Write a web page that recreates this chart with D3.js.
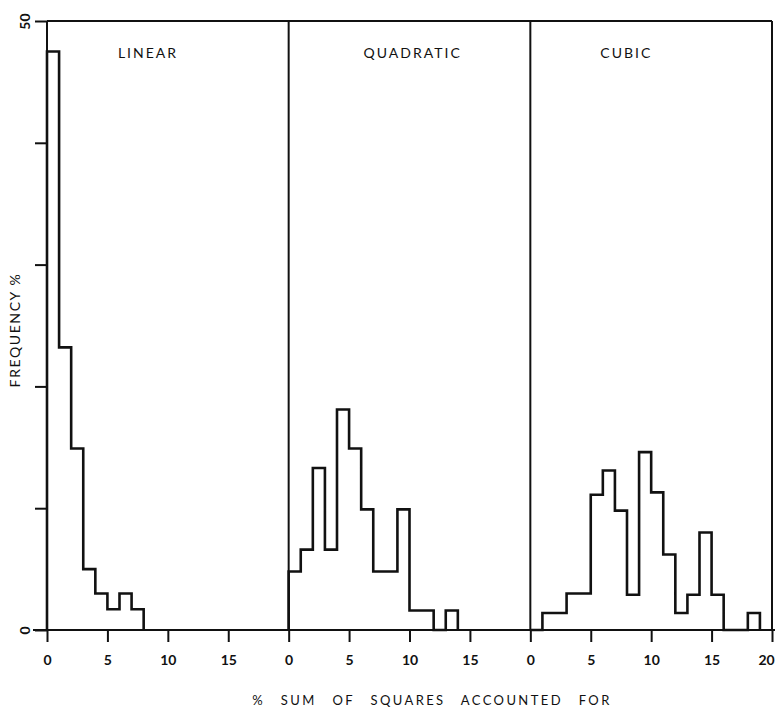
<!DOCTYPE html>
<html lang="en">
<head>
    <meta charset="UTF-8">
    <title>Sum of squares accounted for</title>
    <style>
        body { margin: 0; background: #fff; }
        svg text { font-family: Lato, "Open Sans", sans-serif; fill: #111; }
    </style>
</head>
<body>
    <script src="https://d3js.org/d3.v7.min.js"></script>
    <div id="container"></div>
    <script>
        // frequency % per 1-unit bin, starting at 0
        var panels = ['LINEAR', 'QUADRATIC', 'CUBIC'];
        var linearFreq = [47.5, 23.2, 14.9, 5.0, 3.0, 1.7, 3.0, 1.7];
        var quadraticFreq = [4.8, 6.6, 13.3, 6.6, 18.1, 14.9, 9.9, 4.8, 4.8, 9.9, 1.6, 1.6, 0, 1.6];
        var cubicFreq = [0, 1.4, 1.4, 3.0, 3.0, 11.1, 13.1, 9.8, 2.9, 14.6, 11.3, 6.2, 1.4, 2.9, 8.0, 2.9, 0, 0, 1.4];
        var xTicks = [[0, 5, 10, 15], [0, 5, 10, 15], [0, 5, 10, 15, 20]];
        var yTicks = [0, 10, 20, 30, 40, 50];

        var containerWidth = 777, containerHeight = 710;
        var margin = {top: 21, bottom: 80, left: 47, right: 5};
        var width = containerWidth - margin.left - margin.right;
        var height = containerHeight - margin.top - margin.bottom;
        var panelWidth = width / 3;

        var svg = d3.select('#container').append('svg')
            .attr('width', containerWidth).attr('height', containerHeight);
        var g = svg.append('g').attr('transform', `translate(${margin.left}, ${margin.top})`);

        var y = d3.scaleLinear().domain([0, 50]).range([height, 0]);
        var data = [linearFreq, quadraticFreq, cubicFreq];

        // y axis
        var yAxisGroup = g.append('g').attr('class', 'axis y');
        yAxisGroup.call(d3.axisLeft(y).tickValues(yTicks).tickSize(12).tickFormat(d => (d == 0 || d == 50) ? d : ''));
        yAxisGroup.select('.domain').remove();
        yAxisGroup.selectAll('line').attr('stroke', '#111').attr('stroke-width', 2);
        yAxisGroup.selectAll('text')
            .attr('x', null).attr('dy', null)
            .attr('transform', 'translate(-22, 0) rotate(-90)')
            .attr('text-anchor', 'middle').attr('dy', '0.35em')
            .style('font-size', '14px').style('font-weight', 'bold');

        // frame
        g.append('line').attr('x1', 0).attr('x2', width).attr('y1', y(50)).attr('y2', y(50))
            .attr('stroke', '#111').attr('stroke-width', 2);
        g.append('line').attr('x1', -14).attr('x2', width + 3).attr('y1', y(0)).attr('y2', y(0))
            .attr('stroke', '#111').attr('stroke-width', 2);

        data.forEach(function(freq, i) {
            var x = d3.scaleLinear().domain([0, 20]).range([i * panelWidth, (i + 1) * panelWidth]);

            g.append('line').attr('x1', x(0)).attr('x2', x(0)).attr('y1', y(50)).attr('y2', y(0))
                .attr('stroke', '#111').attr('stroke-width', 2);
            if (i == 2) {
                g.append('line').attr('x1', x(20)).attr('x2', x(20)).attr('y1', y(50)).attr('y2', y(0))
                    .attr('stroke', '#111').attr('stroke-width', 2);
            }

            var xAxisGroup = g.append('g').attr('class', 'axis x').attr('transform', `translate(0, ${height})`);
            xAxisGroup.call(d3.axisBottom(x).tickValues(xTicks[i]).tickSize(12).tickPadding(13));
            xAxisGroup.select('.domain').remove();
            xAxisGroup.selectAll('line').attr('stroke', '#111').attr('stroke-width', 2);
            xAxisGroup.selectAll('text').style('font-size', '14px').style('font-weight', 'bold')
                .attr('dx', d => d == 20 ? -6 : 0);

            // histogram outline
            var p = d3.path();
            p.moveTo(x(0), y(0));
            freq.forEach(function(v, k) {
                p.lineTo(x(k), y(v));
                p.lineTo(x(k + 1), y(v));
            });
            p.lineTo(x(freq.length), y(0));
            g.append('path').attr('d', p.toString())
                .attr('fill', 'none').attr('stroke', '#111').attr('stroke-width', 2.6)
                .attr('stroke-linejoin', 'miter');

            g.append('text').attr('x', [101, 124, 96][i] + i * panelWidth).attr('y', 37)
                .attr('text-anchor', 'middle')
                .style('font-size', '14px').style('letter-spacing', '2px')
                .text(panels[i]);
        });

        svg.append('text')
            .attr('transform', `translate(20, ${330}) rotate(-90)`)
            .attr('text-anchor', 'middle')
            .style('font-size', '14px').style('letter-spacing', '1.6px')
            .text('FREQUENCY %');

        svg.append('text').attr('x', 432).attr('y', 705)
            .attr('text-anchor', 'middle')
            .style('font-size', '13px').style('letter-spacing', '2.4px').style('word-spacing', '10px')
            .text('% SUM OF SQUARES ACCOUNTED FOR');
    </script>
</body>
</html>
